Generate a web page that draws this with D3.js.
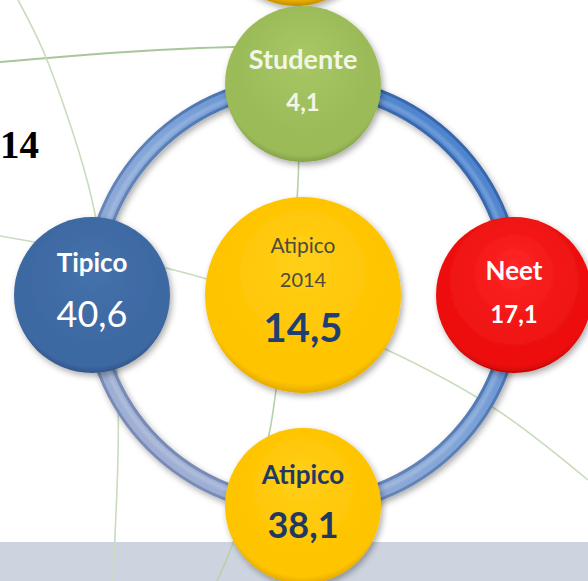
<!DOCTYPE html>
<html><head><meta charset="utf-8">
<script src="https://cdn.jsdelivr.net/npm/d3@7"></script>
<style>html,body{margin:0;padding:0;background:#fff;overflow:hidden}svg{display:block}</style>
</head><body>
<svg id="chart" width="588" height="581"></svg>
<script>
// ---------- data ----------
const categories = ["Studente", "Neet", "Atipico", "Tipico"];
const values = [4.1, 17.1, 38.1, 40.6];
const centerLabels = ["Atipico", "2014"];
const centerValue = 14.5;
const titleFragment = "14";

// ---------- decoration (background globe lines) ----------
const globeLines = [
  {pts: [[0,62],[110,53],[200,48],[262,46]], color: "#a9c79b", w: 2},
  {pts: [[18,0],[45,55],[72,130],[92,200],[110,300],[118,400],[117,490],[113,581]], color: "#c9dcbd", w: 1.6},
  {pts: [[0,236],[100,254],[200,277],[300,312],[400,356],[500,412],[588,480]], color: "#c9dcbd", w: 1.6},
  {pts: [[300,0],[299,150],[293,250],[276,390],[262,460],[233,543],[217,581]], color: "#b7d0aa", w: 1.6}
];

// ---------- styles ----------
const W = 588, H = 581;
const ringCenter = [303, 295], ringR = 211, nodeR = 78, centerR = 98;
const fontFam = "Lato, 'Open Sans', sans-serif";
const nodeStyles = {
  "Studente": {grad: ["#a8c765", "#9bbb59", "#7f9d46"], color: "#f2f6e6",
               label: {size: 27, weight: 700, dy: -15}, value: {size: 24, weight: 700, dy: 27}},
  "Neet":     {grad: ["#ff2626", "#ee1111", "#c00000"], color: "#ffffff",
               label: {size: 26, weight: 700, dy: -15}, value: {size: 24, weight: 700, dy: 28}},
  "Atipico":  {grad: ["#ffd01a", "#ffc400", "#dda300"], color: "#1f3864",
               label: {size: 26, weight: 700, dy: -22}, value: {size: 36, weight: 700, dy: 32}},
  "Tipico":   {grad: ["#4571ab", "#3e69a3", "#2e5286"], color: "#ffffff",
               label: {size: 26, weight: 700, dy: -23}, value: {size: 36, weight: 400, dy: 32}}
};

const locale = d3.formatLocale({decimal: ",", thousands: ".", grouping: [3], currency: ["", "€"]});
const fmt = locale.format(".1f");

const svg = d3.select("#chart");
const defs = svg.append("defs");

// drop shadow
const sh = defs.append("filter").attr("id", "shadow").attr("x", "-30%").attr("y", "-30%").attr("width", "160%").attr("height", "160%");
sh.append("feDropShadow").attr("dx", 2).attr("dy", 3).attr("stdDeviation", 3)
  .attr("flood-color", "#000").attr("flood-opacity", 0.33);
const blur = defs.append("filter").attr("id", "soft");
blur.append("feGaussianBlur").attr("stdDeviation", 1.2);

function radial(id, stops) {
  const g = defs.append("radialGradient").attr("id", id)
    .attr("cx", "50%").attr("cy", "45%").attr("r", "56%").attr("fx", "50%").attr("fy", "30%");
  g.append("stop").attr("offset", "0%").attr("stop-color", stops[0]);
  g.append("stop").attr("offset", "75%").attr("stop-color", stops[1]);
  g.append("stop").attr("offset", "92%").attr("stop-color", stops[1]);
  g.append("stop").attr("offset", "100%").attr("stop-color", stops[2]);
}
categories.forEach((c, i) => radial("g" + i, nodeStyles[c].grad));
radial("gc", ["#ffd01a", "#ffc400", "#dda300"]);
radial("gtop", ["#ffc81a", "#f5b800", "#b88600"]);

// ring gradients
const ang = d3.scaleLinear().domain([0, categories.length]).range([-Math.PI / 2, 3 * Math.PI / 2]);
const px = a => ringCenter[0] + ringR * Math.cos(a);
const py = a => ringCenter[1] + ringR * Math.sin(a);

function lin(id, stops) {
  const g = defs.append("linearGradient").attr("id", id).attr("gradientUnits", "userSpaceOnUse")
    .attr("x1", ringCenter[0] + ringR).attr("y1", ringCenter[1] - ringR)
    .attr("x2", ringCenter[0] - ringR).attr("y2", ringCenter[1] + ringR);
  stops.forEach((s, i) => g.append("stop").attr("offset", (i / (stops.length - 1) * 100) + "%").attr("stop-color", s));
}
lin("ringDark", ["#2a5ca6", "#5b80b8", "#8590b4"]);
lin("ringMain", ["#3a78cb", "#82a5d8", "#aab3d2"]);

// ---------- background ----------
svg.append("rect").attr("width", W).attr("height", H).attr("fill", "#ffffff");
svg.append("rect").attr("x", 0).attr("y", 542).attr("width", W).attr("height", H - 542).attr("fill", "#cdd4df");

const line = d3.line().curve(d3.curveNatural);
svg.append("g").selectAll("path").data(globeLines).join("path")
  .attr("d", d => line(d.pts)).attr("fill", "none")
  .attr("stroke", d => d.color).attr("stroke-width", d => d.w);

// partially visible circle at the top
svg.append("circle").attr("cx", 296).attr("cy", -72).attr("r", 78)
  .attr("fill", "url(#gtop)").attr("filter", "url(#shadow)");

// ---------- ring ----------
const ringG = svg.append("g").attr("filter", "url(#shadow)");
ringG.append("circle").attr("cx", ringCenter[0]).attr("cy", ringCenter[1]).attr("r", ringR)
  .attr("fill", "none").attr("stroke", "url(#ringDark)").attr("stroke-width", 18);
ringG.append("circle").attr("cx", ringCenter[0]).attr("cy", ringCenter[1]).attr("r", ringR)
  .attr("fill", "none").attr("stroke", "url(#ringMain)").attr("stroke-width", 12);
svg.append("circle").attr("cx", ringCenter[0]).attr("cy", ringCenter[1]).attr("r", ringR - 2)
  .attr("fill", "none").attr("stroke", "#ffffff").attr("stroke-opacity", 0.18).attr("stroke-width", 4)
  .attr("filter", "url(#soft)");

// ---------- nodes ----------
const nodes = categories.map((c, i) => ({name: c, value: values[i], i, x: px(ang(i)), y: py(ang(i))}));
const ng = svg.append("g").selectAll("g").data(nodes).join("g")
  .attr("transform", d => `translate(${d.x},${d.y})`);
ng.append("circle").attr("r", nodeR).attr("fill", d => `url(#g${d.i})`).attr("filter", "url(#shadow)");
ng.append("text").attr("text-anchor", "middle")
  .attr("y", d => nodeStyles[d.name].label.dy)
  .attr("font-family", fontFam)
  .attr("font-size", d => nodeStyles[d.name].label.size)
  .attr("font-weight", d => nodeStyles[d.name].label.weight)
  .attr("fill", d => nodeStyles[d.name].color)
  .text(d => d.name);
ng.append("text").attr("text-anchor", "middle")
  .attr("y", d => nodeStyles[d.name].value.dy)
  .attr("font-family", fontFam)
  .attr("font-size", d => nodeStyles[d.name].value.size)
  .attr("font-weight", d => nodeStyles[d.name].value.weight)
  .attr("fill", d => nodeStyles[d.name].color)
  .text(d => fmt(d.value));

// ---------- centre ----------
const cg = svg.append("g").attr("transform", `translate(${ringCenter[0]},${ringCenter[1]})`);
cg.append("circle").attr("r", centerR).attr("fill", "url(#gc)").attr("filter", "url(#shadow)");
cg.append("text").attr("text-anchor", "middle").attr("y", -42)
  .attr("font-family", fontFam).attr("font-size", 21).attr("fill", "#4e4b3a").text(centerLabels[0]);
cg.append("text").attr("text-anchor", "middle").attr("y", -8)
  .attr("font-family", fontFam).attr("font-size", 20).attr("fill", "#4e4b3a").text(centerLabels[1]);
cg.append("text").attr("text-anchor", "middle").attr("y", 47)
  .attr("font-family", fontFam).attr("font-size", 40).attr("font-weight", 700).attr("fill", "#1f3f73")
  .text(fmt(centerValue));

// ---------- title fragment ----------
svg.append("text").attr("x", 0).attr("y", 158)
  .attr("font-family", "'Liberation Serif', 'DejaVu Serif', serif")
  .attr("font-size", 39).attr("font-weight", 700).attr("fill", "#000")
  .text(titleFragment);
</script>
</body></html>
